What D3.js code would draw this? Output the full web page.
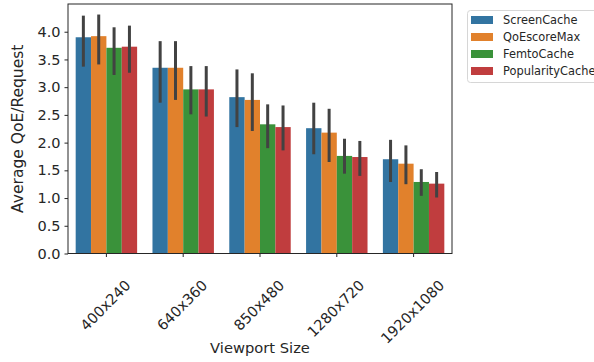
<!DOCTYPE html>
<meta charset="utf-8">
<style>
body { margin: 0; background: #fff; font-family: "DejaVu Sans", sans-serif; }
.axis text { font-size: 14.5px; fill: #262626; font-family: "DejaVu Sans", sans-serif; }
.axis path, .axis line { stroke: #262626; }
</style>
<body>
<script src="https://cdn.jsdelivr.net/npm/d3@7"></script>
<script>
// data
var sizes = ["400x240", "640x360", "850x480", "1280x720", "1920x1080"];
var methods = ["ScreenCache", "QoEscoreMax", "FemtoCache", "PopularityCache"];
var colors = ["#3274a1", "#e1812c", "#3a923a", "#c03d3e"];
var yTicks = [0, 0.5, 1, 1.5, 2, 2.5, 3, 3.5, 4];

// mean per method, one value per viewport size
var means = {
  ScreenCache:     [3.90, 3.35, 2.82, 2.26, 1.70],
  QoEscoreMax:     [3.92, 3.35, 2.77, 2.18, 1.62],
  FemtoCache:      [3.71, 2.96, 2.33, 1.76, 1.29],
  PopularityCache: [3.73, 2.96, 2.28, 1.74, 1.26]
};
// confidence interval low / high
var ciLow = {
  ScreenCache:     [3.37, 2.72, 2.28, 1.79, 1.29],
  QoEscoreMax:     [3.41, 2.77, 2.21, 1.65, 1.25],
  FemtoCache:      [3.22, 2.51, 1.90, 1.44, 1.04],
  PopularityCache: [3.26, 2.47, 1.86, 1.40, 1.01]
};
var ciHigh = {
  ScreenCache:     [4.29, 3.83, 3.32, 2.72, 2.05],
  QoEscoreMax:     [4.31, 3.83, 3.25, 2.61, 1.95],
  FemtoCache:      [4.08, 3.38, 2.69, 2.07, 1.52],
  PopularityCache: [4.11, 3.38, 2.67, 2.03, 1.47]
};

var W = 594, H = 362;
// plot area edges (window.top is reserved, so prefix them)
var pLeft = 68, pRight = 452, pTop = 4, pBottom = 253.5;

var svg = d3.select("body").append("svg")
    .attr("width", W)
    .attr("height", H);

var x = d3.scaleBand().domain(sizes).range([pLeft, pRight]).padding(0);
var hue = d3.scaleBand().domain(methods)
    .range([x.bandwidth() * 0.1, x.bandwidth() * 0.9]);
var y = d3.scaleLinear().domain([0, 4.5]).range([pBottom, pTop]);

var rows = [];
methods.forEach(function(m, j) {
  sizes.forEach(function(s, i) {
    rows.push({size: s, method: m, color: colors[j],
      v: means[m][i], lo: ciLow[m][i], hi: ciHigh[m][i]});
  });
});

// bars
svg.append("g").selectAll("rect")
  .data(rows)
  .enter().append("rect")
    .attr("x", function(d) { return x(d.size) + hue(d.method); })
    .attr("width", hue.bandwidth())
    .attr("y", function(d) { return y(d.v); })
    .attr("height", function(d) { return pBottom - y(d.v); })
    .attr("fill", function(d) { return d.color; });

// error bars
svg.append("g").selectAll("line")
  .data(rows)
  .enter().append("line")
    .attr("x1", function(d) { return x(d.size) + hue(d.method) + hue.bandwidth() / 2; })
    .attr("x2", function(d) { return x(d.size) + hue(d.method) + hue.bandwidth() / 2; })
    .attr("y1", function(d) { return y(d.lo); })
    .attr("y2", function(d) { return y(d.hi); })
    .attr("stroke", "#424242")
    .attr("stroke-width", 3);

// axes
var yAxis = svg.append("g")
    .attr("class", "axis")
    .attr("transform", "translate(" + pLeft + ",0)")
    .call(d3.axisLeft(y).tickValues(yTicks).tickFormat(d3.format(".1f")).tickSize(3.5).tickPadding(4));
yAxis.select(".domain").remove();

var xAxis = svg.append("g")
    .attr("class", "axis")
    .attr("transform", "translate(0," + pBottom + ")")
    .call(d3.axisBottom(x).tickSize(3.5));
xAxis.select(".domain").remove();

// rotated tick labels, bbox centred on the tick
xAxis.selectAll(".tick text").each(function() {
  var t = d3.select(this);
  var len = this.getComputedTextLength();
  var h = 14.5;
  var half = 0.7071 * (len + h) / 2;
  t.attr("text-anchor", "middle")
   .attr("dy", "0.35em")
   .attr("y", 0)
   .attr("transform", "translate(-1," + (24 + half) + ") rotate(-45)");
});

// frame
svg.append("rect")
    .attr("x", pLeft).attr("y", pTop)
    .attr("width", pRight - pLeft).attr("height", pBottom - pTop)
    .attr("fill", "none")
    .attr("stroke", "#262626")
    .attr("stroke-width", 1);

// axis titles
svg.append("text")
    .attr("transform", "rotate(-90)")
    .attr("x", -(pTop + pBottom) / 2)
    .attr("y", 23)
    .style("text-anchor", "middle")
    .style("font-size", "15.5px")
    .style("fill", "#262626")
    .text("Average QoE/Request");

svg.append("text")
    .attr("x", (pLeft + pRight) / 2)
    .attr("y", 353)
    .style("text-anchor", "middle")
    .style("font-size", "14.7px")
    .style("fill", "#262626")
    .text("Viewport Size");

// legend
var lg = svg.append("g");
lg.append("rect")
    .attr("x", 467.5).attr("y", 10.5)
    .attr("width", 140).attr("height", 72)
    .attr("rx", 3)
    .attr("fill", "#fff")
    .attr("stroke", "#d6d6d6");
methods.forEach(function(m, j) {
  var cy = 20 + j * 17;
  lg.append("rect")
      .attr("x", 471).attr("y", cy - 4)
      .attr("width", 22).attr("height", 8)
      .attr("fill", colors[j]);
  lg.append("text")
      .attr("x", 503).attr("y", cy)
      .attr("dy", "0.35em")
      .style("font-size", "11.4px")
      .style("fill", "#262626")
      .text(m);
});
</script>
</body>
